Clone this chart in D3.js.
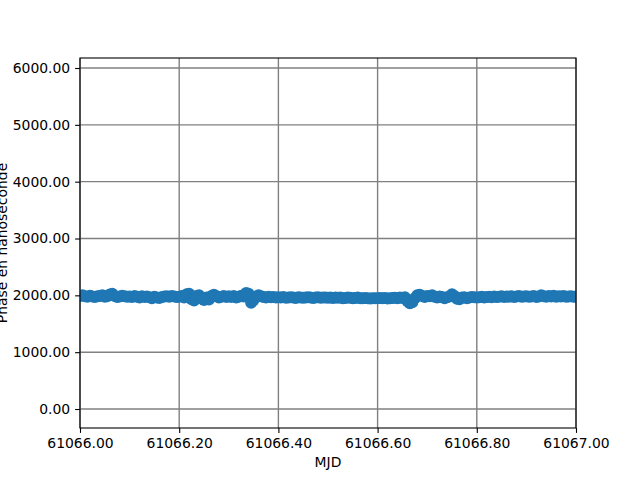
<!DOCTYPE html>
<html><head><meta charset="utf-8">
<script src="https://cdn.jsdelivr.net/npm/d3@7"></script>
<style>body{margin:0;background:#fff}svg{display:block}text{font-family:"DejaVu Sans",sans-serif}</style>
</head><body><div id="c"></div>
<script>
const xStart = 61066.0;
const xStep = 0.005;
const phaseValues = [
1990,2000,1985,1975,1995,1980,1970,1985,1990,2000,1975,1985,2015,2030,1990,1970,1980,1995,1985,1975,
1980,1970,1990,1975,1960,1985,1970,1980,1965,1950,1975,1960,1955,1970,1980,1985,1975,1990,1980,1970,
1975,1990,1960,2020,2030,1930,1910,1990,2000,1950,1920,1960,1925,1990,2010,1985,1960,1975,1990,1970,
1985,1970,1990,1960,1975,1995,1980,2040,2030,1870,1920,1980,2000,1985,1970,1960,1975,1965,1970,1960,
1965,1960,1970,1958,1962,1968,1960,1955,1965,1960,1958,1962,1965,1960,1955,1960,1965,1958,1962,1960,
1958,1960,1955,1962,1958,1960,1950,1955,1960,1958,1950,1955,1960,1950,1948,1955,1950,1945,1950,1948,
1950,1955,1948,1952,1945,1950,1955,1958,1950,1960,1955,1965,1900,1860,1880,1950,2000,2010,1990,1970,
1990,1985,2000,1975,1960,1980,1970,1950,1965,1980,2020,1990,1940,1930,1960,1965,1950,1960,1970,1965,
1960,1965,1975,1960,1970,1975,1965,1980,1970,1975,1985,1970,1980,1975,1985,1970,1980,1990,1975,1980,
1985,1975,1980,1990,1970,1980,2000,1985,1975,1990,1980,1995,1975,1985,1980,1990,1975,1980,1985,1975,
1980];
const xTicks = [61066.0,61066.2,61066.4,61066.6,61066.8,61067.0];
const yTicks = [0,1000,2000,3000,4000,5000,6000];
const xLabel = "MJD";
const yLabel = "Phase en nanoseconde";

const W=640,H=480, L=80,R=576,T=58,B=428;
const svg=d3.select("#c").append("svg").attr("width",W).attr("height",H);
const x=d3.scaleLinear().domain([61066.0,61067.0]).range([L,R]);
const y=d3.scaleLinear().domain([-334,6176]).range([B,T]);
const data=phaseValues.map((v,i)=>({t:xStart+i*xStep,v}));

svg.append("defs").append("clipPath").attr("id","clip").append("rect").attr("x",L).attr("y",T).attr("width",R-L).attr("height",B-T);

// grid
const g=svg.append("g");
g.selectAll("line.gx").data(xTicks).join("line").attr("x1",d=>x(d)).attr("x2",d=>x(d)).attr("y1",T).attr("y2",B).attr("stroke","#808080").attr("stroke-width",1.4);
g.selectAll("line.gy").data(yTicks).join("line").attr("y1",d=>y(d)).attr("y2",d=>y(d)).attr("x1",L).attr("x2",R).attr("stroke","#808080").attr("stroke-width",1.4);

svg.append("g").attr("clip-path","url(#clip)").selectAll("circle").data(data).join("circle")
 .attr("cx",d=>x(d.t)).attr("cy",d=>y(d.v)).attr("r",6).attr("fill","#1f77b4");

const fmt=d3.format(".2f");
const ax=svg.append("g").attr("transform",`translate(0,${B})`).call(d3.axisBottom(x).tickValues(xTicks).tickFormat(fmt).tickSize(4.9).tickPadding(4.9));
const ay=svg.append("g").attr("transform",`translate(${L},0)`).call(d3.axisLeft(y).tickValues(yTicks).tickFormat(fmt).tickSize(4.9).tickPadding(4.9));
[ax,ay].forEach(a=>{a.select(".domain").remove();a.selectAll("line").attr("stroke","#000").attr("stroke-width",1.1);a.selectAll("text").attr("font-size","13.9px").attr("fill","#000").style("font-family","DejaVu Sans");});
svg.append("rect").attr("x",L).attr("y",T).attr("width",R-L).attr("height",B-T).attr("fill","none").attr("stroke","#000").attr("stroke-width",1.1);

svg.append("text").attr("x",(L+R)/2).attr("y",467).attr("text-anchor","middle").attr("font-size","13.9px").text(xLabel);
svg.append("text").attr("transform",`translate(7,${(T+B)/2}) rotate(-90)`).attr("text-anchor","middle").attr("font-size","13.9px").text(yLabel);
</script></body></html>
